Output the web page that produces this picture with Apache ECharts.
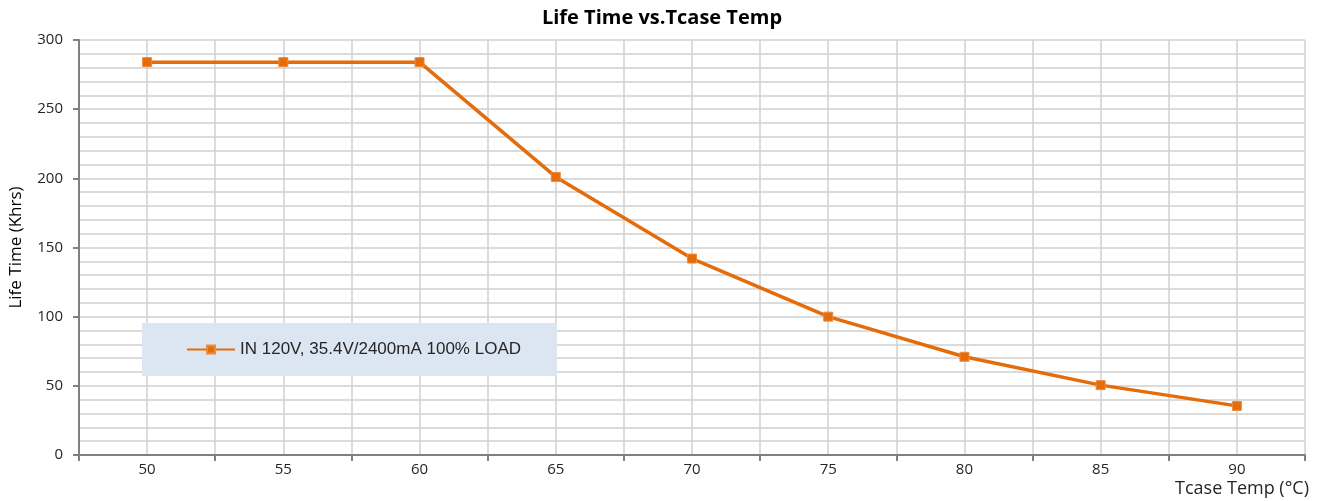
<!DOCTYPE html>
<html><head><meta charset="utf-8">
<script src="https://cdn.jsdelivr.net/npm/echarts@6/dist/echarts.min.js"></script>
<style>html,body{margin:0;padding:0;background:#fff}#c{width:1324px;height:501px}</style>
</head><body><div id="c"></div>
<script>
const categories = ['50','55','60','65','70','75','80','85','90'];
const lifeTime = [284, 284, 284, 201, 142, 100, 71, 50.5, 35.5];
const seriesName = 'IN 120V, 35.4V/2400mA 100% LOAD';
const titleText = 'Life Time vs.Tcase Temp';
const yName = 'Life Time (Khrs)';
const xName = 'Tcase Temp (\u00B0C)';

const chart = echarts.init(document.getElementById('c'), null, {renderer:'canvas'});
const font = 'Liberation Sans, Arial, sans-serif';
const lab = 'Open Sans, sans-serif';
chart.setOption({
  animation:false,
  title:{text:titleText, left:'center', top:3, textStyle:{fontFamily:lab, fontWeight:'bold', fontSize:20, color:'#000'}},
  grid:{left:79, right:19, top:40, bottom:46, containLabel:false, outerBoundsMode:'none'},
  legend:{
    left:142, top:323, orient:'horizontal',
    backgroundColor:'#dce6f2', padding:[18,36,18,44],
    itemWidth:48, itemHeight:10, itemGap:5,
    textStyle:{fontFamily:font, fontSize:17, color:'#262626'},
    data:[seriesName]
  },
  xAxis:[{
    type:'category', data:categories, boundaryGap:true,
    name:xName, nameLocation:'end', nameGap:0,
    nameTextStyle:{fontFamily:lab, fontSize:18, color:'#262626', align:'right', verticalAlign:'top', padding:[25,-4,0,0]},
    axisLine:{lineStyle:{color:'#808080', width:2}},
    axisTick:{show:true, length:6, lineStyle:{color:'#808080', width:2}},
    axisLabel:{fontFamily:lab, fontSize:15, color:'#262626', margin:7},
    splitLine:{show:false}
  },{
    type:'value', min:47.5, max:92.5, interval:2.5, show:true,
    axisLine:{show:false}, axisTick:{show:false}, axisLabel:{show:false},
    splitLine:{show:true, lineStyle:{color:'#d0d0d0', width:1.5}}
  }],
  yAxis:{
    type:'value', min:0, max:300, interval:50,
    name:yName, nameLocation:'middle', nameGap:54, nameRotate:90,
    nameTextStyle:{fontFamily:lab, fontSize:17, color:'#000'},
    axisLine:{show:true, lineStyle:{color:'#808080', width:2}},
    axisTick:{show:true, length:6, lineStyle:{color:'#808080', width:2}},
    axisLabel:{fontFamily:lab, fontSize:15, color:'#262626', margin:16},
    splitLine:{show:true, lineStyle:{color:'#d0d0d0', width:1.5}},
    minorTick:{show:false, splitNumber:5},
    minorSplitLine:{show:true, lineStyle:{color:'#d0d0d0', width:1.5}}
  },
  series:[{
    name:seriesName, type:'line', data:lifeTime, xAxisIndex:0,
    symbol:'rect', symbolSize:9,
    lineStyle:{color:'#e46c0a', width:3.5},
    itemStyle:{color:'#e46c0a', borderColor:'#f08a3a', borderWidth:1},
    z:5
  }]
});
</script></body></html>
